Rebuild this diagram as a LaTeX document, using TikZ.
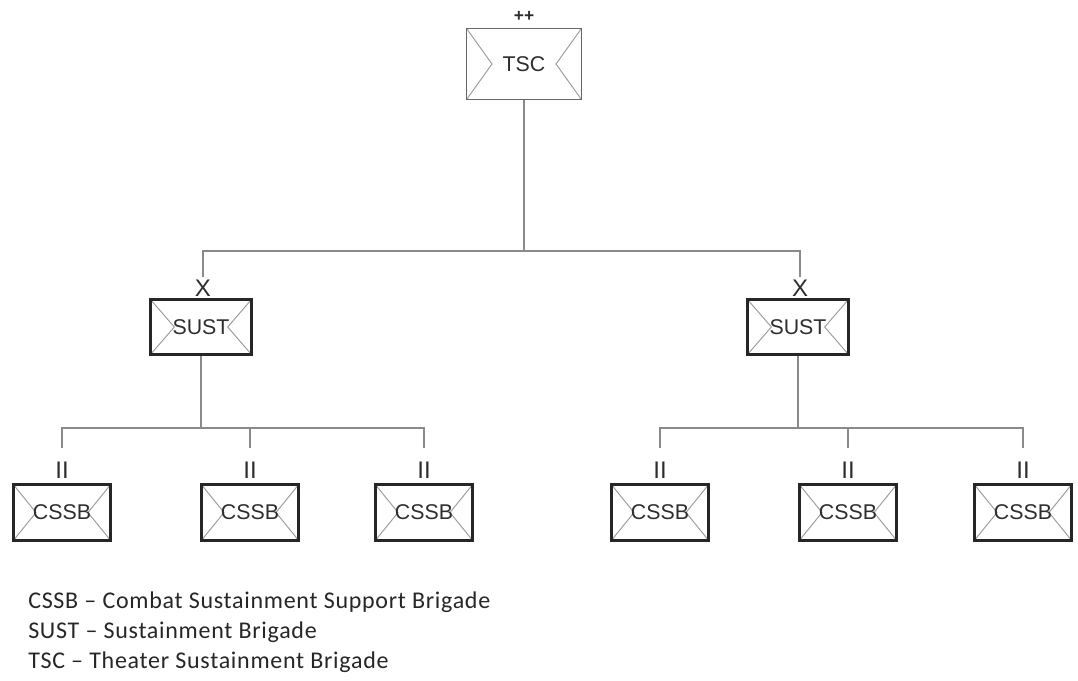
\documentclass[tikz,border=0pt]{standalone}
\usepackage{fontspec}
\setmainfont{Liberation Sans}
\newfontfamily\legendfont[LetterSpace=3]{Carlito}
\usetikzlibrary{calc}
\definecolor{ink}{HTML}{2E2E2E}
\definecolor{wire}{HTML}{8A8A8A}
\definecolor{diag}{HTML}{9A9A9A}
\begin{document}
\begin{tikzpicture}[x=0.75pt,y=-0.75pt,
  chev/.style={path picture={
    \draw[diag, line width=0.7pt]
      (path picture bounding box.north west) -- ($(path picture bounding box.west)+(#1,0)$) -- (path picture bounding box.south west)
      (path picture bounding box.north east) -- ($(path picture bounding box.east)+(-#1,0)$) -- (path picture bounding box.south east);}},
  unitbox/.style={draw=black!85, line width=2.2pt, fill=white, inner sep=0pt, text=ink,
    font=\fontsize{16}{19}\selectfont},
  cssbbox/.style={unitbox, minimum width=73pt, minimum height=42pt, chev=17pt},
  sustbox/.style={unitbox, minimum width=76pt, minimum height=41.5pt, chev=18pt},
  tscbox/.style={unitbox, draw=black!60, line width=1pt, minimum width=86pt, minimum height=53pt, chev=19pt, font=\fontsize{16}{19}\selectfont},
  echelon/.style={text=ink, inner sep=0pt, font=\fontsize{18}{20}\selectfont},
  wireline/.style={draw=wire, line width=0.8pt},
  legend/.style={anchor=west, inner sep=0pt, text=black!85, font=\legendfont\fontsize{18}{21}\selectfont}
]
\useasboundingbox (0,0) rectangle (1078,681);

% top unit
\node[tscbox] (tsc) at (524,64) {TSC};
\node[echelon, font=\bfseries\fontsize{13}{15}\selectfont] (tscech) at (524,16) {++};

% brigades
\node[sustbox] (sustL) at (201,327) {SUST};
\node[sustbox] (sustR) at (798,327) {SUST};
\node[echelon] (xL) at (203,288) {X};
\node[echelon] (xR) at (800,288) {X};

% battalions
\foreach \n/\x in {c1/62, c2/250, c3/424, c4/660, c5/848, c6/1023}{
  \node[cssbbox] (\n) at (\x,512.5) {CSSB};
  \node[echelon] (\n ech) at (\x,470) {II};
  \coordinate (\n top) at (\x,448);
  \coordinate (\n bus) at (\x,428);
}

% connectors
\coordinate (busT) at (524,251);
\coordinate (topL) at (203,277);
\coordinate (topR) at (800,277);
\draw[wireline] (tsc.south) -- (busT) -| (topL);
\draw[wireline] (busT) -| (topR);

\draw[wireline] (c1top) -- (c1bus) -- (c3bus) -- (c3top);
\draw[wireline] (c2bus) -- (c2top);
\draw[wireline] (sustL.south) -- (sustL.south |- c1bus);

\draw[wireline] (c4top) -- (c4bus) -- (c6bus) -- (c6top);
\draw[wireline] (c5bus) -- (c5top);
\draw[wireline] (sustR.south) -- (sustR.south |- c4bus);

% legend
\node[legend] (l1) at (28,602) {CSSB – Combat Sustainment Support Brigade};
\node[legend] (l2) at (28,632) {SUST – Sustainment Brigade};
\node[legend] (l3) at (28,662) {TSC – Theater Sustainment Brigade};
\end{tikzpicture}
\end{document}
